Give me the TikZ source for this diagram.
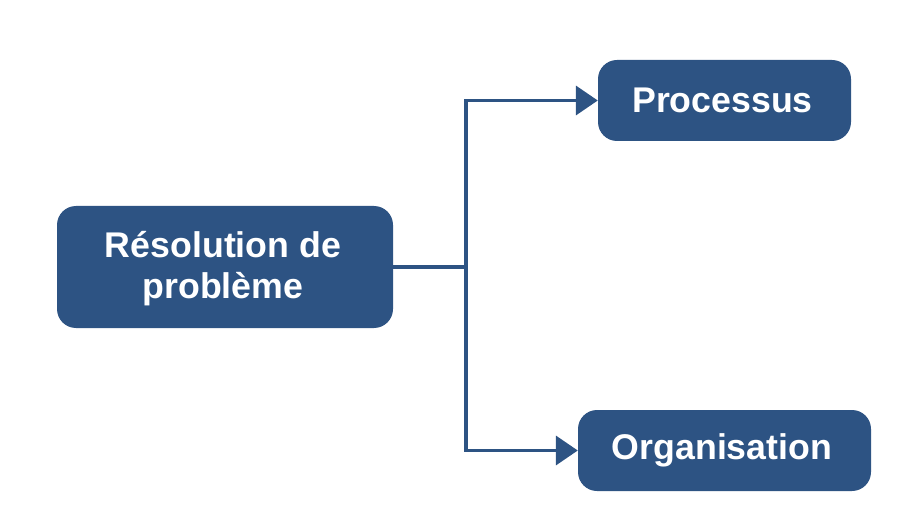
\documentclass[tikz,border=0pt]{standalone}
\usepackage{fontspec}
\setmainfont{Liberation Sans}
\usetikzlibrary{arrows.meta}
\definecolor{boxblue}{RGB}{45,83,131}
\begin{document}
\begin{tikzpicture}[x=1pt,y=-1pt,
  box/.style={draw=none,fill=boxblue,rounded corners=19pt,text=white,
    font=\bfseries\fontsize{35.7}{41}\selectfont,align=center,inner sep=0pt},
  conn/.style={draw=boxblue,line width=3.8pt},
  tip/.style={-{Triangle[length=22pt,width=29pt]}}]
\useasboundingbox (0,0) rectangle (912,529);
\node[box,minimum width=336pt,minimum height=122pt] (L) at (225,267) {};
\node[text=white,font=\bfseries\fontsize{35.7}{41}\selectfont,align=center,inner sep=0pt] (Lt) at (223,269) {Résolution de\\problème};
\node[box,minimum width=253pt,minimum height=81pt] (P) at (724.5,100.5) {};
\node[text=white,font=\bfseries\fontsize{35.7}{41}\selectfont,inner sep=0pt] (Pt) at (722.5,100.5) {Processus};
\node[box,minimum width=293pt,minimum height=81pt] (O) at (724.5,450.5) {};
\node[text=white,font=\bfseries\fontsize{35.7}{41}\selectfont,inner sep=0pt] (Ot) at (722,450.5) {Organisation};
\coordinate (j) at (466,267);
\draw[conn] (L.east) -- (j);
\draw[conn,tip] (j) |- (P.west);
\draw[conn,tip] (j) |- (O.west);
\end{tikzpicture}
\end{document}
